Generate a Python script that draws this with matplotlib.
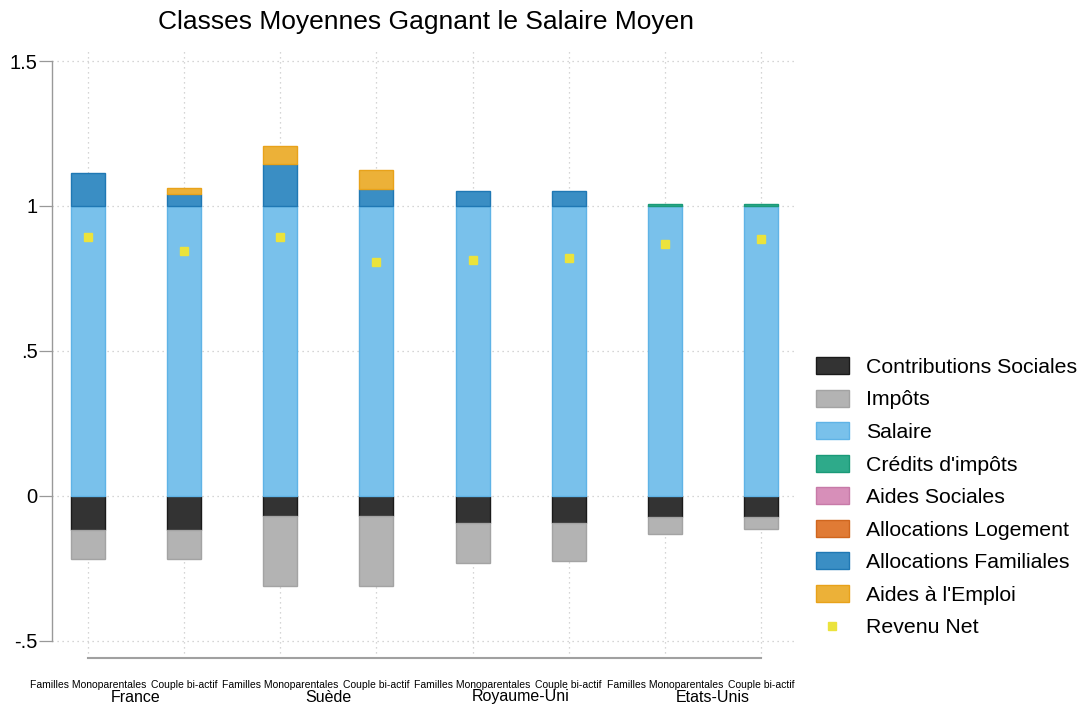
import matplotlib
matplotlib.use("Agg")
import matplotlib.pyplot as plt
import matplotlib.transforms as mtransforms
from matplotlib.patches import Patch
from matplotlib.lines import Line2D
import numpy as np

plt.rcParams['font.family'] = ['Liberation Sans', 'DejaVu Sans']

countries = ["France", "Suède", "Royaume-Uni", "Etats-Unis"]
household_types = ["Familles Monoparentales", "Couple bi-actif"]

contributions = [-0.119, -0.119, -0.070, -0.070, -0.094, -0.094, -0.075, -0.075]
impots = [-0.101, -0.101, -0.242, -0.242, -0.137, -0.130, -0.057, -0.040]
salaire = [1.0, 1.0, 1.0, 1.0, 1.0, 1.0, 1.0, 1.0]
credits_impots = [0.0, 0.0, 0.0, 0.0, 0.0, 0.0, 0.005, 0.005]
aides_sociales = [0.0, 0.0, 0.0, 0.0, 0.0, 0.0, 0.0, 0.0]
allocations_logement = [0.0, 0.0, 0.0, 0.0, 0.0, 0.0, 0.0, 0.0]
allocations_familiales = [0.113, 0.040, 0.143, 0.057, 0.050, 0.050, 0.0, 0.0]
aides_emploi = [0.0, 0.022, 0.065, 0.066, 0.0, 0.0, 0.0, 0.0]
revenu_net = [0.892, 0.843, 0.892, 0.808, 0.813, 0.819, 0.868, 0.887]

labels = ["Contributions Sociales", "Impôts", "Salaire", "Crédits d'impôts",
          "Aides Sociales", "Allocations Logement", "Allocations Familiales",
          "Aides à l'Emploi", "Revenu Net"]
face = ["#333333", "#b3b3b3", "#79c1eb", "#2eaa8a", "#d78fb9", "#e07b35", "#3a8ec4", "#ecb138"]
edge = ["#1a1a1a", "#a3a3a3", "#5fb3e6", "#1a9a78", "#c77aa8", "#d0661e", "#1f78b4", "#e8a21a"]
net_color = "#ebe33c"

W, H = 1084, 705
fig = plt.figure(figsize=(W / 100, H / 100), dpi=100)
ax = fig.add_axes([52 / W, 1 - 658 / H, (795 - 52) / W, (658 - 48) / H])

x = np.arange(len(salaire))
bw = 0.354

# gridlines
for yv in [-0.5, 0, 0.5, 1, 1.5]:
    ax.axhline(yv, color="#c8c8c8", lw=0.9, ls=(0, (1, 3)), zorder=0)
for xv in x:
    ax.axvline(xv, color="#c8c8c8", lw=0.9, ls=(0, (1, 3)), zorder=0)

# negatives
neg_series = [contributions, impots]
bottom = np.zeros(len(x))
for i, s in enumerate(neg_series):
    s = np.array(s)
    ax.bar(x, s, bw, bottom=bottom, color=face[i], edgecolor=edge[i], lw=1.0, zorder=2)
    bottom = bottom + s

pos_series = [salaire, credits_impots, aides_sociales, allocations_logement,
              allocations_familiales, aides_emploi]
bottom = np.zeros(len(x))
for j, s in enumerate(pos_series):
    i = j + 2
    s = np.array(s)
    mask = s > 0
    ax.bar(x[mask], s[mask], bw, bottom=bottom[mask], color=face[i], edgecolor=edge[i],
           lw=1.0, zorder=2)
    bottom = bottom + s

ax.plot(x, revenu_net, ls="none", marker="s", ms=6, color=net_color, mec=net_color, zorder=3)

ax.set_xlim(-0.375, 7.354)
ax.set_ylim(-0.56, 1.545)
ax.set_yticks([-0.5, 0, 0.5, 1, 1.5])
ax.set_yticklabels(["-.5", "0", ".5", "1", "1.5"], fontsize=14.5)
ax.tick_params(axis="y", length=9.5, width=0.9, color="#999999", pad=1)
ax.set_xticks([])

for sp in ["top", "right"]:
    ax.spines[sp].set_visible(False)
ax.spines["left"].set_bounds(-0.5, 1.5)
ax.spines["left"].set_color("#999999")
ax.spines["left"].set_linewidth(1.0)
ax.spines["bottom"].set_bounds(0, 7)
ax.spines["bottom"].set_color("#a0a0a0")
ax.spines["bottom"].set_linewidth(1.5)

trans = mtransforms.blended_transform_factory(ax.transData, fig.transFigure)
for k, xv in enumerate(x):
    ax.text(xv, 1 - 685 / H, household_types[k % 2], transform=trans, ha="center", va="center",
            fontsize=7.5, clip_on=False)
for c, name in enumerate(countries):
    ax.text(2 * c + 0.5, 1 - 697 / H, name, transform=trans, ha="center", va="center",
            fontsize=11.5, clip_on=False)

fig.text(426 / W, 1 - 22 / H, "Classes Moyennes Gagnant le Salaire Moyen", ha="center",
         va="center", fontsize=19)

handles = [Patch(facecolor=face[i], edgecolor=edge[i], lw=1.0) for i in range(8)]
handles.append(Line2D([], [], ls="none", marker="s", ms=6, color=net_color, mec=net_color))
leg = fig.legend(handles, labels, loc="upper left", bbox_to_anchor=(816 / W, 1 - 357 / H),
                 frameon=False, fontsize=15.3, handlelength=1.55, handleheight=0.85,
                 handletextpad=0.8, labelspacing=0.6, borderaxespad=0, borderpad=0)

fig.savefig("out.png", dpi=100)
